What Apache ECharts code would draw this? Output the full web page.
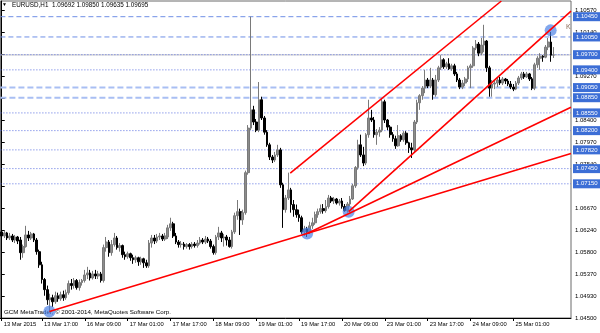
<!DOCTYPE html>
<html><head><meta charset="utf-8">
<script src="https://cdn.jsdelivr.net/npm/echarts@6/dist/echarts.min.js"></script>
<style>html,body{margin:0;padding:0;background:#fff}#c{width:600px;height:333px}</style>
</head><body><div id="c"></div>
<script>
const FONT = "'Liberation Sans',Arial,sans-serif";
const N_CATS = 213;
const categories = Array.from({length: N_CATS}, (_, i) => 'bar' + i);
const xTickIndex = [0,15,31,47,63,79,95,111,127,143,159,175,191];
const xTickLabels = ["13 Mar 2015","13 Mar 17:00","16 Mar 09:00","17 Mar 01:00","17 Mar 17:00","18 Mar 09:00","19 Mar 01:00","19 Mar 17:00","20 Mar 09:00","23 Mar 01:00","23 Mar 17:00","24 Mar 09:00","25 Mar 01:00"];
const yTickValues = [1.0450,1.0493,1.0537,1.0580,1.0624,1.0667,1.0710,1.0754,1.0797,1.0840,1.0883,1.0927,1.0970,1.1014,1.1057];

const opens = [1.0620,1.0612,1.0618,1.0608,1.0612,1.0604,1.0610,1.0604,1.0579,1.0591,1.0614,1.0608,1.0616,1.0604,1.0581,1.0555,1.0526,1.0506,1.0486,1.0490,
1.0482,1.0494,1.0488,1.0496,1.0490,1.0500,1.0518,1.0514,1.0524,1.0510,1.0520,1.0524,1.0535,1.0539,1.0529,1.0537,1.0533,1.0537,1.0524,1.0589,
1.0600,1.0579,1.0595,1.0608,1.0589,1.0593,1.0575,1.0571,1.0577,1.0569,1.0565,1.0569,1.0561,1.0567,1.0559,1.0553,1.0598,1.0608,1.0602,1.0610,
1.0612,1.0606,1.0610,1.0628,1.0636,1.0612,1.0600,1.0595,1.0596,1.0591,1.0595,1.0591,1.0596,1.0593,1.0598,1.0604,1.0600,1.0606,1.0602,1.0591,
1.0579,1.0610,1.0618,1.0608,1.0610,1.0604,1.0591,1.0620,1.0652,1.0660,1.0644,1.0658,1.0737,1.0825,1.0861,1.0837,1.0821,1.0881,1.0845,1.0817,
1.0792,1.0768,1.0762,1.0772,1.0782,1.0713,1.0664,1.0687,1.0703,1.0674,1.0664,1.0654,1.0648,1.0620,1.0626,1.0620,1.0632,1.0638,1.0654,1.0660,
1.0666,1.0662,1.0670,1.0687,1.0681,1.0685,1.0677,1.0681,1.0670,1.0662,1.0675,1.0685,1.0711,1.0747,1.0792,1.0772,1.0756,1.0812,1.0845,1.0841,
1.0812,1.0817,1.0821,1.0877,1.0841,1.0827,1.0812,1.0804,1.0790,1.0810,1.0802,1.0815,1.0796,1.0786,1.0782,1.0837,1.0875,1.0889,1.0904,1.0920,
1.0908,1.0920,1.0891,1.0920,1.0944,1.0960,1.0946,1.0952,1.0942,1.0948,1.0932,1.0920,1.0906,1.0914,1.0922,1.0944,1.0948,1.0983,1.0991,1.0973,
1.0989,1.0997,1.0944,1.0904,1.0912,1.0914,1.0920,1.0914,1.0922,1.0918,1.0912,1.0906,1.0902,1.0914,1.0924,1.0932,1.0926,1.0932,1.0922,1.0904,
1.0950,1.0963,1.0967,1.0965,1.0985,1.0995,1.09692];
const closes = [1.0612,1.0618,1.0608,1.0612,1.0604,1.0610,1.0602,1.0579,1.0591,1.0614,1.0608,1.0616,1.0604,1.0581,1.0555,1.0526,1.0506,1.0486,1.0490,1.0482,
1.0494,1.0488,1.0496,1.0490,1.0500,1.0518,1.0514,1.0524,1.0510,1.0520,1.0524,1.0535,1.0539,1.0529,1.0537,1.0533,1.0537,1.0524,1.0589,1.0600,
1.0579,1.0595,1.0608,1.0589,1.0593,1.0575,1.0571,1.0577,1.0569,1.0565,1.0569,1.0561,1.0567,1.0559,1.0553,1.0598,1.0608,1.0602,1.0610,1.0612,
1.0606,1.0612,1.0628,1.0636,1.0612,1.0600,1.0595,1.0596,1.0591,1.0595,1.0591,1.0596,1.0593,1.0598,1.0604,1.0600,1.0606,1.0602,1.0591,1.0579,
1.0610,1.0618,1.0608,1.0610,1.0604,1.0591,1.0620,1.0652,1.0660,1.0644,1.0658,1.0737,1.0825,1.0861,1.0837,1.0821,1.0881,1.0845,1.0817,1.0792,
1.0768,1.0762,1.0772,1.0782,1.0713,1.0664,1.0687,1.0703,1.0674,1.0664,1.0654,1.0648,1.0620,1.0626,1.0620,1.0632,1.0638,1.0654,1.0660,1.0666,
1.0662,1.0670,1.0687,1.0681,1.0685,1.0677,1.0681,1.0670,1.0662,1.0675,1.0685,1.0711,1.0747,1.0792,1.0772,1.0756,1.0812,1.0845,1.0841,1.0812,
1.0817,1.0821,1.0877,1.0841,1.0827,1.0812,1.0804,1.0790,1.0810,1.0802,1.0815,1.0796,1.0786,1.0782,1.0837,1.0875,1.0889,1.0904,1.0920,1.0908,
1.0920,1.0891,1.0920,1.0944,1.0960,1.0946,1.0952,1.0942,1.0948,1.0932,1.0920,1.0906,1.0914,1.0922,1.0944,1.0948,1.0983,1.0991,1.0973,1.0989,
1.0997,1.0944,1.0904,1.0912,1.0914,1.0920,1.0914,1.0922,1.0918,1.0912,1.0906,1.0902,1.0914,1.0924,1.0932,1.0926,1.0932,1.0922,1.0904,1.0950,
1.0963,1.0967,1.0965,1.0985,1.0995,1.0969,1.09695];
const highs = [1.0626,1.0622,1.0620,1.0618,1.0616,1.0614,1.0612,1.0610,1.0595,1.0632,1.0622,1.0620,1.0618,1.0608,1.0585,1.0561,1.0529,1.0514,1.0498,1.0496,
1.0502,1.0500,1.0502,1.0504,1.0506,1.0524,1.0527,1.0529,1.0527,1.0526,1.0527,1.0545,1.0551,1.0545,1.0543,1.0545,1.0543,1.0541,1.0595,1.0610,
1.0604,1.0604,1.0618,1.0612,1.0598,1.0595,1.0581,1.0581,1.0579,1.0575,1.0573,1.0571,1.0571,1.0569,1.0565,1.0604,1.0614,1.0614,1.0616,1.0618,
1.0616,1.0618,1.0634,1.0648,1.0640,1.0618,1.0604,1.0602,1.0600,1.0598,1.0598,1.0600,1.0600,1.0604,1.0610,1.0608,1.0612,1.0610,1.0606,1.0595,
1.0614,1.0630,1.0622,1.0616,1.0614,1.0610,1.0624,1.0658,1.0683,1.0666,1.0664,1.0741,1.0831,1.1045,1.0869,1.0843,1.0916,1.0887,1.0849,1.0821,
1.0796,1.0772,1.0778,1.0792,1.0786,1.0717,1.0693,1.0737,1.0707,1.0683,1.0674,1.0664,1.0652,1.0632,1.0630,1.0640,1.0648,1.0660,1.0666,1.0674,
1.0675,1.0683,1.0693,1.0691,1.0689,1.0687,1.0685,1.0687,1.0675,1.0679,1.0691,1.0715,1.0750,1.0802,1.0812,1.0788,1.0815,1.0881,1.0861,1.0847,
1.0823,1.0827,1.0883,1.0881,1.0843,1.0831,1.0817,1.0810,1.0831,1.0813,1.0819,1.0819,1.0798,1.0796,1.0841,1.0881,1.0892,1.0908,1.0940,1.0924,
1.0944,1.0924,1.0930,1.0948,1.0969,1.0963,1.0956,1.0963,1.0952,1.0952,1.0936,1.0924,1.0920,1.0926,1.0948,1.0952,1.0987,1.0999,1.0995,1.1003,
1.1029,1.0999,1.0948,1.0920,1.0920,1.0924,1.0926,1.0926,1.0924,1.0922,1.0918,1.0912,1.0918,1.0928,1.0936,1.0936,1.0936,1.0934,1.0926,1.0954,
1.0967,1.0973,1.0969,1.0989,1.1003,1.1015,1.09850];
const lows = [1.0608,1.0608,1.0604,1.0604,1.0600,1.0598,1.0596,1.0565,1.0569,1.0589,1.0602,1.0604,1.0600,1.0575,1.0549,1.0518,1.0494,1.0476,1.0462,1.0472,
1.0478,1.0482,1.0484,1.0484,1.0486,1.0496,1.0506,1.0508,1.0506,1.0504,1.0514,1.0520,1.0527,1.0524,1.0526,1.0527,1.0527,1.0520,1.0520,1.0581,
1.0571,1.0573,1.0591,1.0585,1.0581,1.0569,1.0565,1.0567,1.0563,1.0557,1.0559,1.0553,1.0555,1.0549,1.0549,1.0549,1.0589,1.0596,1.0598,1.0604,
1.0602,1.0602,1.0606,1.0622,1.0608,1.0596,1.0589,1.0589,1.0585,1.0587,1.0585,1.0587,1.0589,1.0589,1.0595,1.0596,1.0596,1.0598,1.0587,1.0575,
1.0575,1.0604,1.0600,1.0591,1.0593,1.0589,1.0587,1.0616,1.0644,1.0614,1.0634,1.0654,1.0733,1.0821,1.0831,1.0817,1.0817,1.0841,1.0812,1.0788,
1.0762,1.0756,1.0758,1.0768,1.0707,1.0628,1.0658,1.0683,1.0658,1.0650,1.0648,1.0640,1.0616,1.0612,1.0610,1.0616,1.0626,1.0634,1.0648,1.0656,
1.0656,1.0658,1.0666,1.0677,1.0675,1.0674,1.0672,1.0666,1.0660,1.0658,1.0670,1.0683,1.0707,1.0743,1.0768,1.0750,1.0752,1.0806,1.0837,1.0806,
1.0792,1.0808,1.0817,1.0835,1.0821,1.0806,1.0798,1.0784,1.0788,1.0798,1.0798,1.0792,1.0776,1.0766,1.0778,1.0833,1.0861,1.0881,1.0894,1.0904,
1.0904,1.0881,1.0887,1.0916,1.0940,1.0942,1.0942,1.0940,1.0938,1.0928,1.0916,1.0902,1.0902,1.0908,1.0916,1.0904,1.0944,1.0979,1.0967,1.0969,
1.0975,1.0936,1.0887,1.0887,1.0902,1.0906,1.0910,1.0910,1.0912,1.0908,1.0902,1.0898,1.0900,1.0910,1.0920,1.0922,1.0924,1.0918,1.0900,1.0900,
1.0944,1.0940,1.0956,1.0963,1.0979,1.0956,1.09635];

// horizontal levels drawn on the chart
const levelPrices = [1.1045,1.1005,1.0970,1.0940,1.0905,1.0885,1.0855,1.0820,1.0782,1.0745,1.0715];
const levelKinds  = ['dash','dash','dot','dot','light','light','dot','dot','dot','dot','dot'];
const bidPrice = 1.09695;

// trend lines: [bar index, price] anchor pairs
const trendLines = [
  [[17.8, 1.0463], [212.5, 1.0775]],
  [[114.0, 1.0617], [212.5, 1.0866]],
  [[129.5, 1.0660], [212.5, 1.1056]],
  [[107.7, 1.0736], [186.5, 1.1076]]
];
const anchorPoints = [[17.8, 1.0463], [114.0, 1.0617], [129.5, 1.0660], [204.9, 1.1018]];

const tickSet = new Set(xTickIndex);
const tickMap = {}; xTickIndex.forEach((k, j) => tickMap[k] = xTickLabels[j]);
const candleData = opens.map((o, i) => [o, closes[i], lows[i], highs[i]]);
const X0 = -0.5, X1 = N_CATS - 0.5;

function styleFor(kind) {
  if (kind === 'dash') return {color: '#6f8fe6', type: [5, 3], width: 1};
  if (kind === 'light') return {color: '#a9bff3', type: [6, 3], width: 2};
  return {color: '#5a6fe0', type: [1, 2], width: 1};
}

const series = [
  {
    type: 'line', xAxisIndex: 1, yAxisIndex: 0, data: [[X0, bidPrice], [X1, bidPrice]], symbol: 'none', silent: true,
    lineStyle: {color: '#c4c4c4', width: 1, type: 'solid'}, z: 1
  }
];
levelPrices.forEach((p, i) => series.push({
  type: 'line', xAxisIndex: 1, yAxisIndex: 0, data: [[X0, p], [X1, p]], symbol: 'none', silent: true, clip: false,
  lineStyle: styleFor(levelKinds[i]), z: 2,
  endLabel: {show: true, distance: 2, formatter: p.toFixed(5), backgroundColor: '#3c6ed6', color: '#fff',
    padding: [1, 3, 0, 3], fontSize: 6, fontFamily: FONT, lineHeight: 8}
}));
series.push({
  type: 'candlestick', xAxisIndex: 0, yAxisIndex: 0, data: candleData, barWidth: 2.2,
  itemStyle: {color: '#8c8c8c', color0: '#000000', borderColor: '#7a7a7a', borderColor0: '#000000', borderWidth: 1},
  z: 3, silent: true
});
series.push({
  type: 'scatter', xAxisIndex: 1, yAxisIndex: 0, data: anchorPoints, symbolSize: 12,
  itemStyle: {color: 'rgba(72,126,228,0.85)'}, z: 4, silent: true
});
trendLines.forEach(tl => series.push({
  type: 'line', xAxisIndex: 1, yAxisIndex: 0, data: tl, symbol: 'none', silent: true,
  lineStyle: {color: '#ff0000', width: 1.6}, z: 5
}));

const option = {
  animation: false,
  backgroundColor: '#ffffff',
  grid: {left: 0.4, right: 29, top: 1, bottom: 15, show: true, borderColor: '#6a6a6a', borderWidth: 1},
  xAxis: [
    {
      type: 'category', data: categories, boundaryGap: true,
      axisLine: {show: true, lineStyle: {color: '#000'}},
      axisTick: {show: true, alignWithLabel: true, interval: (i) => tickSet.has(i), length: 3, lineStyle: {color: '#000'}},
      axisLabel: {interval: (i) => tickSet.has(i), formatter: (v, i) => tickMap[i] || '', align: 'left',
        padding: [0, 0, 0, 2], margin: 3, fontSize: 5.8, color: '#000', fontFamily: FONT, hideOverlap: false},
      splitLine: {show: false}
    },
    {type: 'value', min: X0, max: X1, show: false}
  ],
  yAxis: {
    type: 'value', position: 'right', min: 1.045, max: 1.1076,
    axisLine: {show: true, lineStyle: {color: '#000'}},
    axisTick: {show: true, customValues: yTickValues, length: 3, lineStyle: {color: '#000'}},
    axisLabel: {customValues: yTickValues, formatter: (v) => v.toFixed(5), fontSize: 6, color: '#000', margin: 4, fontFamily: FONT},
    splitLine: {show: false}
  },
  graphic: [
    {type: 'text', left: 2, top: 2, style: {text: '▼', fontSize: 5, fill: '#000'}},
    {type: 'text', left: 12, top: 2, style: {text: 'EURUSD,H1  1.09692 1.09850 1.09635 1.09695', fontSize: 6.3, fontFamily: FONT, fill: '#000'}},
    {type: 'text', left: 4, top: 309, style: {text: 'GCM MetaTrader, © 2001-2014, MetaQuotes Software Corp.', fontSize: 6.2, fontFamily: FONT, fill: '#000'}},
    {type: 'text', left: 566, top: 24, style: {text: 'K', fontSize: 7, fontFamily: FONT, fill: '#8a6c58'}}
  ],
  series: series
};
const chart = echarts.init(document.getElementById('c'), null, {renderer: 'canvas'});
chart.setOption(option);
</script>
</body></html>
